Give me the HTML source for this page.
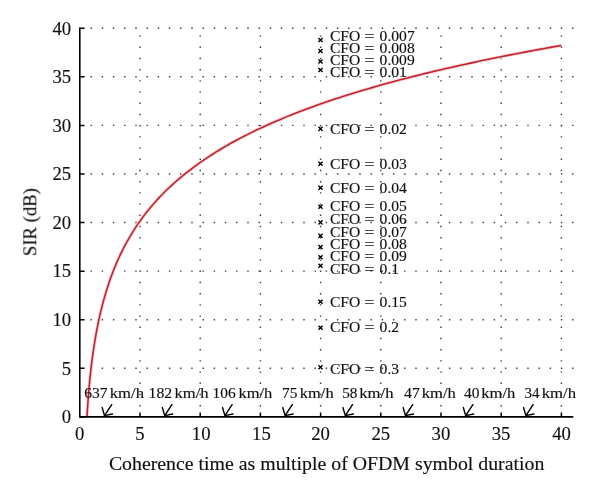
<!DOCTYPE html>
<html><head><meta charset="utf-8"><style>
html,body{margin:0;padding:0;background:#fff;}
body{width:600px;height:495px;overflow:hidden;}
svg{display:block;} text{will-change:transform;}
text{font-family:"Liberation Serif",serif;fill:#111;font-kerning:none;stroke:#111;stroke-width:0.15px;}
</style></head><body>
<svg width="600" height="495" viewBox="0 0 600 495">
<rect width="600" height="495" fill="#fff"/>
<path d="M90.50 367.61h1.4v1.4h-1.4zM101.70 367.61h1.4v1.4h-1.4zM112.90 367.61h1.4v1.4h-1.4zM124.10 367.61h1.4v1.4h-1.4zM135.30 367.61h1.4v1.4h-1.4zM146.50 367.61h1.4v1.4h-1.4zM157.70 367.61h1.4v1.4h-1.4zM168.90 367.61h1.4v1.4h-1.4zM180.10 367.61h1.4v1.4h-1.4zM191.30 367.61h1.4v1.4h-1.4zM202.50 367.61h1.4v1.4h-1.4zM213.70 367.61h1.4v1.4h-1.4zM224.90 367.61h1.4v1.4h-1.4zM236.10 367.61h1.4v1.4h-1.4zM247.30 367.61h1.4v1.4h-1.4zM258.50 367.61h1.4v1.4h-1.4zM269.70 367.61h1.4v1.4h-1.4zM280.90 367.61h1.4v1.4h-1.4zM292.10 367.61h1.4v1.4h-1.4zM303.30 367.61h1.4v1.4h-1.4zM314.50 367.61h1.4v1.4h-1.4zM325.70 367.61h1.4v1.4h-1.4zM336.90 367.61h1.4v1.4h-1.4zM348.10 367.61h1.4v1.4h-1.4zM359.30 367.61h1.4v1.4h-1.4zM370.50 367.61h1.4v1.4h-1.4zM381.70 367.61h1.4v1.4h-1.4zM392.90 367.61h1.4v1.4h-1.4zM404.10 367.61h1.4v1.4h-1.4zM415.30 367.61h1.4v1.4h-1.4zM426.50 367.61h1.4v1.4h-1.4zM437.70 367.61h1.4v1.4h-1.4zM448.90 367.61h1.4v1.4h-1.4zM460.10 367.61h1.4v1.4h-1.4zM471.30 367.61h1.4v1.4h-1.4zM482.50 367.61h1.4v1.4h-1.4zM493.70 367.61h1.4v1.4h-1.4zM504.90 367.61h1.4v1.4h-1.4zM516.10 367.61h1.4v1.4h-1.4zM527.30 367.61h1.4v1.4h-1.4zM538.50 367.61h1.4v1.4h-1.4zM549.70 367.61h1.4v1.4h-1.4zM560.90 367.61h1.4v1.4h-1.4zM572.10 367.61h1.4v1.4h-1.4zM90.50 319.02h1.4v1.4h-1.4zM101.70 319.02h1.4v1.4h-1.4zM112.90 319.02h1.4v1.4h-1.4zM124.10 319.02h1.4v1.4h-1.4zM135.30 319.02h1.4v1.4h-1.4zM146.50 319.02h1.4v1.4h-1.4zM157.70 319.02h1.4v1.4h-1.4zM168.90 319.02h1.4v1.4h-1.4zM180.10 319.02h1.4v1.4h-1.4zM191.30 319.02h1.4v1.4h-1.4zM202.50 319.02h1.4v1.4h-1.4zM213.70 319.02h1.4v1.4h-1.4zM224.90 319.02h1.4v1.4h-1.4zM236.10 319.02h1.4v1.4h-1.4zM247.30 319.02h1.4v1.4h-1.4zM258.50 319.02h1.4v1.4h-1.4zM269.70 319.02h1.4v1.4h-1.4zM280.90 319.02h1.4v1.4h-1.4zM292.10 319.02h1.4v1.4h-1.4zM303.30 319.02h1.4v1.4h-1.4zM314.50 319.02h1.4v1.4h-1.4zM325.70 319.02h1.4v1.4h-1.4zM336.90 319.02h1.4v1.4h-1.4zM348.10 319.02h1.4v1.4h-1.4zM359.30 319.02h1.4v1.4h-1.4zM370.50 319.02h1.4v1.4h-1.4zM381.70 319.02h1.4v1.4h-1.4zM392.90 319.02h1.4v1.4h-1.4zM404.10 319.02h1.4v1.4h-1.4zM415.30 319.02h1.4v1.4h-1.4zM426.50 319.02h1.4v1.4h-1.4zM437.70 319.02h1.4v1.4h-1.4zM448.90 319.02h1.4v1.4h-1.4zM460.10 319.02h1.4v1.4h-1.4zM471.30 319.02h1.4v1.4h-1.4zM482.50 319.02h1.4v1.4h-1.4zM493.70 319.02h1.4v1.4h-1.4zM504.90 319.02h1.4v1.4h-1.4zM516.10 319.02h1.4v1.4h-1.4zM527.30 319.02h1.4v1.4h-1.4zM538.50 319.02h1.4v1.4h-1.4zM549.70 319.02h1.4v1.4h-1.4zM560.90 319.02h1.4v1.4h-1.4zM572.10 319.02h1.4v1.4h-1.4zM90.50 270.44h1.4v1.4h-1.4zM101.70 270.44h1.4v1.4h-1.4zM112.90 270.44h1.4v1.4h-1.4zM124.10 270.44h1.4v1.4h-1.4zM135.30 270.44h1.4v1.4h-1.4zM146.50 270.44h1.4v1.4h-1.4zM157.70 270.44h1.4v1.4h-1.4zM168.90 270.44h1.4v1.4h-1.4zM180.10 270.44h1.4v1.4h-1.4zM191.30 270.44h1.4v1.4h-1.4zM202.50 270.44h1.4v1.4h-1.4zM213.70 270.44h1.4v1.4h-1.4zM224.90 270.44h1.4v1.4h-1.4zM236.10 270.44h1.4v1.4h-1.4zM247.30 270.44h1.4v1.4h-1.4zM258.50 270.44h1.4v1.4h-1.4zM269.70 270.44h1.4v1.4h-1.4zM280.90 270.44h1.4v1.4h-1.4zM292.10 270.44h1.4v1.4h-1.4zM303.30 270.44h1.4v1.4h-1.4zM314.50 270.44h1.4v1.4h-1.4zM325.70 270.44h1.4v1.4h-1.4zM336.90 270.44h1.4v1.4h-1.4zM348.10 270.44h1.4v1.4h-1.4zM359.30 270.44h1.4v1.4h-1.4zM370.50 270.44h1.4v1.4h-1.4zM381.70 270.44h1.4v1.4h-1.4zM392.90 270.44h1.4v1.4h-1.4zM404.10 270.44h1.4v1.4h-1.4zM415.30 270.44h1.4v1.4h-1.4zM426.50 270.44h1.4v1.4h-1.4zM437.70 270.44h1.4v1.4h-1.4zM448.90 270.44h1.4v1.4h-1.4zM460.10 270.44h1.4v1.4h-1.4zM471.30 270.44h1.4v1.4h-1.4zM482.50 270.44h1.4v1.4h-1.4zM493.70 270.44h1.4v1.4h-1.4zM504.90 270.44h1.4v1.4h-1.4zM516.10 270.44h1.4v1.4h-1.4zM527.30 270.44h1.4v1.4h-1.4zM538.50 270.44h1.4v1.4h-1.4zM549.70 270.44h1.4v1.4h-1.4zM560.90 270.44h1.4v1.4h-1.4zM572.10 270.44h1.4v1.4h-1.4zM90.50 221.85h1.4v1.4h-1.4zM101.70 221.85h1.4v1.4h-1.4zM112.90 221.85h1.4v1.4h-1.4zM124.10 221.85h1.4v1.4h-1.4zM135.30 221.85h1.4v1.4h-1.4zM146.50 221.85h1.4v1.4h-1.4zM157.70 221.85h1.4v1.4h-1.4zM168.90 221.85h1.4v1.4h-1.4zM180.10 221.85h1.4v1.4h-1.4zM191.30 221.85h1.4v1.4h-1.4zM202.50 221.85h1.4v1.4h-1.4zM213.70 221.85h1.4v1.4h-1.4zM224.90 221.85h1.4v1.4h-1.4zM236.10 221.85h1.4v1.4h-1.4zM247.30 221.85h1.4v1.4h-1.4zM258.50 221.85h1.4v1.4h-1.4zM269.70 221.85h1.4v1.4h-1.4zM280.90 221.85h1.4v1.4h-1.4zM292.10 221.85h1.4v1.4h-1.4zM303.30 221.85h1.4v1.4h-1.4zM314.50 221.85h1.4v1.4h-1.4zM325.70 221.85h1.4v1.4h-1.4zM336.90 221.85h1.4v1.4h-1.4zM348.10 221.85h1.4v1.4h-1.4zM359.30 221.85h1.4v1.4h-1.4zM370.50 221.85h1.4v1.4h-1.4zM381.70 221.85h1.4v1.4h-1.4zM392.90 221.85h1.4v1.4h-1.4zM404.10 221.85h1.4v1.4h-1.4zM415.30 221.85h1.4v1.4h-1.4zM426.50 221.85h1.4v1.4h-1.4zM437.70 221.85h1.4v1.4h-1.4zM448.90 221.85h1.4v1.4h-1.4zM460.10 221.85h1.4v1.4h-1.4zM471.30 221.85h1.4v1.4h-1.4zM482.50 221.85h1.4v1.4h-1.4zM493.70 221.85h1.4v1.4h-1.4zM504.90 221.85h1.4v1.4h-1.4zM516.10 221.85h1.4v1.4h-1.4zM527.30 221.85h1.4v1.4h-1.4zM538.50 221.85h1.4v1.4h-1.4zM549.70 221.85h1.4v1.4h-1.4zM560.90 221.85h1.4v1.4h-1.4zM572.10 221.85h1.4v1.4h-1.4zM90.50 173.26h1.4v1.4h-1.4zM101.70 173.26h1.4v1.4h-1.4zM112.90 173.26h1.4v1.4h-1.4zM124.10 173.26h1.4v1.4h-1.4zM135.30 173.26h1.4v1.4h-1.4zM146.50 173.26h1.4v1.4h-1.4zM157.70 173.26h1.4v1.4h-1.4zM168.90 173.26h1.4v1.4h-1.4zM180.10 173.26h1.4v1.4h-1.4zM191.30 173.26h1.4v1.4h-1.4zM202.50 173.26h1.4v1.4h-1.4zM213.70 173.26h1.4v1.4h-1.4zM224.90 173.26h1.4v1.4h-1.4zM236.10 173.26h1.4v1.4h-1.4zM247.30 173.26h1.4v1.4h-1.4zM258.50 173.26h1.4v1.4h-1.4zM269.70 173.26h1.4v1.4h-1.4zM280.90 173.26h1.4v1.4h-1.4zM292.10 173.26h1.4v1.4h-1.4zM303.30 173.26h1.4v1.4h-1.4zM314.50 173.26h1.4v1.4h-1.4zM325.70 173.26h1.4v1.4h-1.4zM336.90 173.26h1.4v1.4h-1.4zM348.10 173.26h1.4v1.4h-1.4zM359.30 173.26h1.4v1.4h-1.4zM370.50 173.26h1.4v1.4h-1.4zM381.70 173.26h1.4v1.4h-1.4zM392.90 173.26h1.4v1.4h-1.4zM404.10 173.26h1.4v1.4h-1.4zM415.30 173.26h1.4v1.4h-1.4zM426.50 173.26h1.4v1.4h-1.4zM437.70 173.26h1.4v1.4h-1.4zM448.90 173.26h1.4v1.4h-1.4zM460.10 173.26h1.4v1.4h-1.4zM471.30 173.26h1.4v1.4h-1.4zM482.50 173.26h1.4v1.4h-1.4zM493.70 173.26h1.4v1.4h-1.4zM504.90 173.26h1.4v1.4h-1.4zM516.10 173.26h1.4v1.4h-1.4zM527.30 173.26h1.4v1.4h-1.4zM538.50 173.26h1.4v1.4h-1.4zM549.70 173.26h1.4v1.4h-1.4zM560.90 173.26h1.4v1.4h-1.4zM572.10 173.26h1.4v1.4h-1.4zM90.50 124.67h1.4v1.4h-1.4zM101.70 124.67h1.4v1.4h-1.4zM112.90 124.67h1.4v1.4h-1.4zM124.10 124.67h1.4v1.4h-1.4zM135.30 124.67h1.4v1.4h-1.4zM146.50 124.67h1.4v1.4h-1.4zM157.70 124.67h1.4v1.4h-1.4zM168.90 124.67h1.4v1.4h-1.4zM180.10 124.67h1.4v1.4h-1.4zM191.30 124.67h1.4v1.4h-1.4zM202.50 124.67h1.4v1.4h-1.4zM213.70 124.67h1.4v1.4h-1.4zM224.90 124.67h1.4v1.4h-1.4zM236.10 124.67h1.4v1.4h-1.4zM247.30 124.67h1.4v1.4h-1.4zM258.50 124.67h1.4v1.4h-1.4zM269.70 124.67h1.4v1.4h-1.4zM280.90 124.67h1.4v1.4h-1.4zM292.10 124.67h1.4v1.4h-1.4zM303.30 124.67h1.4v1.4h-1.4zM314.50 124.67h1.4v1.4h-1.4zM325.70 124.67h1.4v1.4h-1.4zM336.90 124.67h1.4v1.4h-1.4zM348.10 124.67h1.4v1.4h-1.4zM359.30 124.67h1.4v1.4h-1.4zM370.50 124.67h1.4v1.4h-1.4zM381.70 124.67h1.4v1.4h-1.4zM392.90 124.67h1.4v1.4h-1.4zM404.10 124.67h1.4v1.4h-1.4zM415.30 124.67h1.4v1.4h-1.4zM426.50 124.67h1.4v1.4h-1.4zM437.70 124.67h1.4v1.4h-1.4zM448.90 124.67h1.4v1.4h-1.4zM460.10 124.67h1.4v1.4h-1.4zM471.30 124.67h1.4v1.4h-1.4zM482.50 124.67h1.4v1.4h-1.4zM493.70 124.67h1.4v1.4h-1.4zM504.90 124.67h1.4v1.4h-1.4zM516.10 124.67h1.4v1.4h-1.4zM527.30 124.67h1.4v1.4h-1.4zM538.50 124.67h1.4v1.4h-1.4zM549.70 124.67h1.4v1.4h-1.4zM560.90 124.67h1.4v1.4h-1.4zM572.10 124.67h1.4v1.4h-1.4zM90.50 76.09h1.4v1.4h-1.4zM101.70 76.09h1.4v1.4h-1.4zM112.90 76.09h1.4v1.4h-1.4zM124.10 76.09h1.4v1.4h-1.4zM135.30 76.09h1.4v1.4h-1.4zM146.50 76.09h1.4v1.4h-1.4zM157.70 76.09h1.4v1.4h-1.4zM168.90 76.09h1.4v1.4h-1.4zM180.10 76.09h1.4v1.4h-1.4zM191.30 76.09h1.4v1.4h-1.4zM202.50 76.09h1.4v1.4h-1.4zM213.70 76.09h1.4v1.4h-1.4zM224.90 76.09h1.4v1.4h-1.4zM236.10 76.09h1.4v1.4h-1.4zM247.30 76.09h1.4v1.4h-1.4zM258.50 76.09h1.4v1.4h-1.4zM269.70 76.09h1.4v1.4h-1.4zM280.90 76.09h1.4v1.4h-1.4zM292.10 76.09h1.4v1.4h-1.4zM303.30 76.09h1.4v1.4h-1.4zM314.50 76.09h1.4v1.4h-1.4zM325.70 76.09h1.4v1.4h-1.4zM336.90 76.09h1.4v1.4h-1.4zM348.10 76.09h1.4v1.4h-1.4zM359.30 76.09h1.4v1.4h-1.4zM370.50 76.09h1.4v1.4h-1.4zM381.70 76.09h1.4v1.4h-1.4zM392.90 76.09h1.4v1.4h-1.4zM404.10 76.09h1.4v1.4h-1.4zM415.30 76.09h1.4v1.4h-1.4zM426.50 76.09h1.4v1.4h-1.4zM437.70 76.09h1.4v1.4h-1.4zM448.90 76.09h1.4v1.4h-1.4zM460.10 76.09h1.4v1.4h-1.4zM471.30 76.09h1.4v1.4h-1.4zM482.50 76.09h1.4v1.4h-1.4zM493.70 76.09h1.4v1.4h-1.4zM504.90 76.09h1.4v1.4h-1.4zM516.10 76.09h1.4v1.4h-1.4zM527.30 76.09h1.4v1.4h-1.4zM538.50 76.09h1.4v1.4h-1.4zM549.70 76.09h1.4v1.4h-1.4zM560.90 76.09h1.4v1.4h-1.4zM572.10 76.09h1.4v1.4h-1.4zM90.50 27.50h1.4v1.4h-1.4zM101.70 27.50h1.4v1.4h-1.4zM112.90 27.50h1.4v1.4h-1.4zM124.10 27.50h1.4v1.4h-1.4zM135.30 27.50h1.4v1.4h-1.4zM146.50 27.50h1.4v1.4h-1.4zM157.70 27.50h1.4v1.4h-1.4zM168.90 27.50h1.4v1.4h-1.4zM180.10 27.50h1.4v1.4h-1.4zM191.30 27.50h1.4v1.4h-1.4zM202.50 27.50h1.4v1.4h-1.4zM213.70 27.50h1.4v1.4h-1.4zM224.90 27.50h1.4v1.4h-1.4zM236.10 27.50h1.4v1.4h-1.4zM247.30 27.50h1.4v1.4h-1.4zM258.50 27.50h1.4v1.4h-1.4zM269.70 27.50h1.4v1.4h-1.4zM280.90 27.50h1.4v1.4h-1.4zM292.10 27.50h1.4v1.4h-1.4zM303.30 27.50h1.4v1.4h-1.4zM314.50 27.50h1.4v1.4h-1.4zM325.70 27.50h1.4v1.4h-1.4zM336.90 27.50h1.4v1.4h-1.4zM348.10 27.50h1.4v1.4h-1.4zM359.30 27.50h1.4v1.4h-1.4zM370.50 27.50h1.4v1.4h-1.4zM381.70 27.50h1.4v1.4h-1.4zM392.90 27.50h1.4v1.4h-1.4zM404.10 27.50h1.4v1.4h-1.4zM415.30 27.50h1.4v1.4h-1.4zM426.50 27.50h1.4v1.4h-1.4zM437.70 27.50h1.4v1.4h-1.4zM448.90 27.50h1.4v1.4h-1.4zM460.10 27.50h1.4v1.4h-1.4zM471.30 27.50h1.4v1.4h-1.4zM482.50 27.50h1.4v1.4h-1.4zM493.70 27.50h1.4v1.4h-1.4zM504.90 27.50h1.4v1.4h-1.4zM516.10 27.50h1.4v1.4h-1.4zM527.30 27.50h1.4v1.4h-1.4zM538.50 27.50h1.4v1.4h-1.4zM549.70 27.50h1.4v1.4h-1.4zM560.90 27.50h1.4v1.4h-1.4zM572.10 27.50h1.4v1.4h-1.4zM139.30 405.00h1.4v1.4h-1.4zM139.30 393.80h1.4v1.4h-1.4zM139.30 382.60h1.4v1.4h-1.4zM139.30 371.40h1.4v1.4h-1.4zM139.30 360.20h1.4v1.4h-1.4zM139.30 349.00h1.4v1.4h-1.4zM139.30 337.80h1.4v1.4h-1.4zM139.30 326.60h1.4v1.4h-1.4zM139.30 315.40h1.4v1.4h-1.4zM139.30 304.20h1.4v1.4h-1.4zM139.30 293.00h1.4v1.4h-1.4zM139.30 281.80h1.4v1.4h-1.4zM139.30 270.60h1.4v1.4h-1.4zM139.30 259.40h1.4v1.4h-1.4zM139.30 248.20h1.4v1.4h-1.4zM139.30 237.00h1.4v1.4h-1.4zM139.30 225.80h1.4v1.4h-1.4zM139.30 214.60h1.4v1.4h-1.4zM139.30 203.40h1.4v1.4h-1.4zM139.30 192.20h1.4v1.4h-1.4zM139.30 181.00h1.4v1.4h-1.4zM139.30 169.80h1.4v1.4h-1.4zM139.30 158.60h1.4v1.4h-1.4zM139.30 147.40h1.4v1.4h-1.4zM139.30 136.20h1.4v1.4h-1.4zM139.30 125.00h1.4v1.4h-1.4zM139.30 113.80h1.4v1.4h-1.4zM139.30 102.60h1.4v1.4h-1.4zM139.30 91.40h1.4v1.4h-1.4zM139.30 80.20h1.4v1.4h-1.4zM139.30 69.00h1.4v1.4h-1.4zM139.30 57.80h1.4v1.4h-1.4zM139.30 46.60h1.4v1.4h-1.4zM139.30 35.40h1.4v1.4h-1.4zM199.50 405.00h1.4v1.4h-1.4zM199.50 393.80h1.4v1.4h-1.4zM199.50 382.60h1.4v1.4h-1.4zM199.50 371.40h1.4v1.4h-1.4zM199.50 360.20h1.4v1.4h-1.4zM199.50 349.00h1.4v1.4h-1.4zM199.50 337.80h1.4v1.4h-1.4zM199.50 326.60h1.4v1.4h-1.4zM199.50 315.40h1.4v1.4h-1.4zM199.50 304.20h1.4v1.4h-1.4zM199.50 293.00h1.4v1.4h-1.4zM199.50 281.80h1.4v1.4h-1.4zM199.50 270.60h1.4v1.4h-1.4zM199.50 259.40h1.4v1.4h-1.4zM199.50 248.20h1.4v1.4h-1.4zM199.50 237.00h1.4v1.4h-1.4zM199.50 225.80h1.4v1.4h-1.4zM199.50 214.60h1.4v1.4h-1.4zM199.50 203.40h1.4v1.4h-1.4zM199.50 192.20h1.4v1.4h-1.4zM199.50 181.00h1.4v1.4h-1.4zM199.50 169.80h1.4v1.4h-1.4zM199.50 158.60h1.4v1.4h-1.4zM199.50 147.40h1.4v1.4h-1.4zM199.50 136.20h1.4v1.4h-1.4zM199.50 125.00h1.4v1.4h-1.4zM199.50 113.80h1.4v1.4h-1.4zM199.50 102.60h1.4v1.4h-1.4zM199.50 91.40h1.4v1.4h-1.4zM199.50 80.20h1.4v1.4h-1.4zM199.50 69.00h1.4v1.4h-1.4zM199.50 57.80h1.4v1.4h-1.4zM199.50 46.60h1.4v1.4h-1.4zM199.50 35.40h1.4v1.4h-1.4zM259.70 405.00h1.4v1.4h-1.4zM259.70 393.80h1.4v1.4h-1.4zM259.70 382.60h1.4v1.4h-1.4zM259.70 371.40h1.4v1.4h-1.4zM259.70 360.20h1.4v1.4h-1.4zM259.70 349.00h1.4v1.4h-1.4zM259.70 337.80h1.4v1.4h-1.4zM259.70 326.60h1.4v1.4h-1.4zM259.70 315.40h1.4v1.4h-1.4zM259.70 304.20h1.4v1.4h-1.4zM259.70 293.00h1.4v1.4h-1.4zM259.70 281.80h1.4v1.4h-1.4zM259.70 270.60h1.4v1.4h-1.4zM259.70 259.40h1.4v1.4h-1.4zM259.70 248.20h1.4v1.4h-1.4zM259.70 237.00h1.4v1.4h-1.4zM259.70 225.80h1.4v1.4h-1.4zM259.70 214.60h1.4v1.4h-1.4zM259.70 203.40h1.4v1.4h-1.4zM259.70 192.20h1.4v1.4h-1.4zM259.70 181.00h1.4v1.4h-1.4zM259.70 169.80h1.4v1.4h-1.4zM259.70 158.60h1.4v1.4h-1.4zM259.70 147.40h1.4v1.4h-1.4zM259.70 136.20h1.4v1.4h-1.4zM259.70 125.00h1.4v1.4h-1.4zM259.70 113.80h1.4v1.4h-1.4zM259.70 102.60h1.4v1.4h-1.4zM259.70 91.40h1.4v1.4h-1.4zM259.70 80.20h1.4v1.4h-1.4zM259.70 69.00h1.4v1.4h-1.4zM259.70 57.80h1.4v1.4h-1.4zM259.70 46.60h1.4v1.4h-1.4zM259.70 35.40h1.4v1.4h-1.4zM319.90 405.00h1.4v1.4h-1.4zM319.90 393.80h1.4v1.4h-1.4zM319.90 382.60h1.4v1.4h-1.4zM319.90 371.40h1.4v1.4h-1.4zM319.90 360.20h1.4v1.4h-1.4zM319.90 349.00h1.4v1.4h-1.4zM319.90 337.80h1.4v1.4h-1.4zM319.90 326.60h1.4v1.4h-1.4zM319.90 315.40h1.4v1.4h-1.4zM319.90 304.20h1.4v1.4h-1.4zM319.90 293.00h1.4v1.4h-1.4zM319.90 281.80h1.4v1.4h-1.4zM319.90 270.60h1.4v1.4h-1.4zM319.90 259.40h1.4v1.4h-1.4zM319.90 248.20h1.4v1.4h-1.4zM319.90 237.00h1.4v1.4h-1.4zM319.90 225.80h1.4v1.4h-1.4zM319.90 214.60h1.4v1.4h-1.4zM319.90 203.40h1.4v1.4h-1.4zM319.90 192.20h1.4v1.4h-1.4zM319.90 181.00h1.4v1.4h-1.4zM319.90 169.80h1.4v1.4h-1.4zM319.90 158.60h1.4v1.4h-1.4zM319.90 147.40h1.4v1.4h-1.4zM319.90 136.20h1.4v1.4h-1.4zM319.90 125.00h1.4v1.4h-1.4zM319.90 113.80h1.4v1.4h-1.4zM319.90 102.60h1.4v1.4h-1.4zM319.90 91.40h1.4v1.4h-1.4zM319.90 80.20h1.4v1.4h-1.4zM319.90 69.00h1.4v1.4h-1.4zM319.90 57.80h1.4v1.4h-1.4zM319.90 46.60h1.4v1.4h-1.4zM319.90 35.40h1.4v1.4h-1.4zM380.10 405.00h1.4v1.4h-1.4zM380.10 393.80h1.4v1.4h-1.4zM380.10 382.60h1.4v1.4h-1.4zM380.10 371.40h1.4v1.4h-1.4zM380.10 360.20h1.4v1.4h-1.4zM380.10 349.00h1.4v1.4h-1.4zM380.10 337.80h1.4v1.4h-1.4zM380.10 326.60h1.4v1.4h-1.4zM380.10 315.40h1.4v1.4h-1.4zM380.10 304.20h1.4v1.4h-1.4zM380.10 293.00h1.4v1.4h-1.4zM380.10 281.80h1.4v1.4h-1.4zM380.10 270.60h1.4v1.4h-1.4zM380.10 259.40h1.4v1.4h-1.4zM380.10 248.20h1.4v1.4h-1.4zM380.10 237.00h1.4v1.4h-1.4zM380.10 225.80h1.4v1.4h-1.4zM380.10 214.60h1.4v1.4h-1.4zM380.10 203.40h1.4v1.4h-1.4zM380.10 192.20h1.4v1.4h-1.4zM380.10 181.00h1.4v1.4h-1.4zM380.10 169.80h1.4v1.4h-1.4zM380.10 158.60h1.4v1.4h-1.4zM380.10 147.40h1.4v1.4h-1.4zM380.10 136.20h1.4v1.4h-1.4zM380.10 125.00h1.4v1.4h-1.4zM380.10 113.80h1.4v1.4h-1.4zM380.10 102.60h1.4v1.4h-1.4zM380.10 91.40h1.4v1.4h-1.4zM380.10 80.20h1.4v1.4h-1.4zM380.10 69.00h1.4v1.4h-1.4zM380.10 57.80h1.4v1.4h-1.4zM380.10 46.60h1.4v1.4h-1.4zM380.10 35.40h1.4v1.4h-1.4zM440.30 405.00h1.4v1.4h-1.4zM440.30 393.80h1.4v1.4h-1.4zM440.30 382.60h1.4v1.4h-1.4zM440.30 371.40h1.4v1.4h-1.4zM440.30 360.20h1.4v1.4h-1.4zM440.30 349.00h1.4v1.4h-1.4zM440.30 337.80h1.4v1.4h-1.4zM440.30 326.60h1.4v1.4h-1.4zM440.30 315.40h1.4v1.4h-1.4zM440.30 304.20h1.4v1.4h-1.4zM440.30 293.00h1.4v1.4h-1.4zM440.30 281.80h1.4v1.4h-1.4zM440.30 270.60h1.4v1.4h-1.4zM440.30 259.40h1.4v1.4h-1.4zM440.30 248.20h1.4v1.4h-1.4zM440.30 237.00h1.4v1.4h-1.4zM440.30 225.80h1.4v1.4h-1.4zM440.30 214.60h1.4v1.4h-1.4zM440.30 203.40h1.4v1.4h-1.4zM440.30 192.20h1.4v1.4h-1.4zM440.30 181.00h1.4v1.4h-1.4zM440.30 169.80h1.4v1.4h-1.4zM440.30 158.60h1.4v1.4h-1.4zM440.30 147.40h1.4v1.4h-1.4zM440.30 136.20h1.4v1.4h-1.4zM440.30 125.00h1.4v1.4h-1.4zM440.30 113.80h1.4v1.4h-1.4zM440.30 102.60h1.4v1.4h-1.4zM440.30 91.40h1.4v1.4h-1.4zM440.30 80.20h1.4v1.4h-1.4zM440.30 69.00h1.4v1.4h-1.4zM440.30 57.80h1.4v1.4h-1.4zM440.30 46.60h1.4v1.4h-1.4zM440.30 35.40h1.4v1.4h-1.4zM500.50 405.00h1.4v1.4h-1.4zM500.50 393.80h1.4v1.4h-1.4zM500.50 382.60h1.4v1.4h-1.4zM500.50 371.40h1.4v1.4h-1.4zM500.50 360.20h1.4v1.4h-1.4zM500.50 349.00h1.4v1.4h-1.4zM500.50 337.80h1.4v1.4h-1.4zM500.50 326.60h1.4v1.4h-1.4zM500.50 315.40h1.4v1.4h-1.4zM500.50 304.20h1.4v1.4h-1.4zM500.50 293.00h1.4v1.4h-1.4zM500.50 281.80h1.4v1.4h-1.4zM500.50 270.60h1.4v1.4h-1.4zM500.50 259.40h1.4v1.4h-1.4zM500.50 248.20h1.4v1.4h-1.4zM500.50 237.00h1.4v1.4h-1.4zM500.50 225.80h1.4v1.4h-1.4zM500.50 214.60h1.4v1.4h-1.4zM500.50 203.40h1.4v1.4h-1.4zM500.50 192.20h1.4v1.4h-1.4zM500.50 181.00h1.4v1.4h-1.4zM500.50 169.80h1.4v1.4h-1.4zM500.50 158.60h1.4v1.4h-1.4zM500.50 147.40h1.4v1.4h-1.4zM500.50 136.20h1.4v1.4h-1.4zM500.50 125.00h1.4v1.4h-1.4zM500.50 113.80h1.4v1.4h-1.4zM500.50 102.60h1.4v1.4h-1.4zM500.50 91.40h1.4v1.4h-1.4zM500.50 80.20h1.4v1.4h-1.4zM500.50 69.00h1.4v1.4h-1.4zM500.50 57.80h1.4v1.4h-1.4zM500.50 46.60h1.4v1.4h-1.4zM500.50 35.40h1.4v1.4h-1.4zM560.70 405.00h1.4v1.4h-1.4zM560.70 393.80h1.4v1.4h-1.4zM560.70 382.60h1.4v1.4h-1.4zM560.70 371.40h1.4v1.4h-1.4zM560.70 360.20h1.4v1.4h-1.4zM560.70 349.00h1.4v1.4h-1.4zM560.70 337.80h1.4v1.4h-1.4zM560.70 326.60h1.4v1.4h-1.4zM560.70 315.40h1.4v1.4h-1.4zM560.70 304.20h1.4v1.4h-1.4zM560.70 293.00h1.4v1.4h-1.4zM560.70 281.80h1.4v1.4h-1.4zM560.70 270.60h1.4v1.4h-1.4zM560.70 259.40h1.4v1.4h-1.4zM560.70 248.20h1.4v1.4h-1.4zM560.70 237.00h1.4v1.4h-1.4zM560.70 225.80h1.4v1.4h-1.4zM560.70 214.60h1.4v1.4h-1.4zM560.70 203.40h1.4v1.4h-1.4zM560.70 192.20h1.4v1.4h-1.4zM560.70 181.00h1.4v1.4h-1.4zM560.70 169.80h1.4v1.4h-1.4zM560.70 158.60h1.4v1.4h-1.4zM560.70 147.40h1.4v1.4h-1.4zM560.70 136.20h1.4v1.4h-1.4zM560.70 125.00h1.4v1.4h-1.4zM560.70 113.80h1.4v1.4h-1.4zM560.70 102.60h1.4v1.4h-1.4zM560.70 91.40h1.4v1.4h-1.4zM560.70 80.20h1.4v1.4h-1.4zM560.70 69.00h1.4v1.4h-1.4zM560.70 57.80h1.4v1.4h-1.4zM560.70 46.60h1.4v1.4h-1.4zM560.70 35.40h1.4v1.4h-1.4z" fill="#3c3c3c"/>
<polyline points="86.95,416.90 87.04,415.48 87.12,414.09 87.20,412.73 87.29,411.40 87.37,410.09 87.45,408.81 87.53,407.55 87.62,406.32 87.70,405.11 87.78,403.92 87.87,402.75 87.95,401.60 88.03,400.48 88.11,399.36 88.20,398.27 88.28,397.20 88.36,396.14 88.45,395.09 88.53,394.07 88.61,393.05 88.69,392.06 88.78,391.07 88.86,390.10 88.94,389.14 89.02,388.20 89.11,387.27 89.19,386.35 89.27,385.44 89.36,384.54 89.44,383.66 89.52,382.78 89.60,381.92 89.69,381.06 89.77,380.22 89.85,379.39 89.94,378.56 90.02,377.75 90.10,376.94 90.18,376.14 90.27,375.35 90.35,374.57 90.43,373.80 90.52,373.03 90.60,372.28 90.68,371.53 90.76,370.79 90.85,370.05 90.93,369.33 91.01,368.61 91.09,367.89 91.18,367.19 91.26,366.49 91.34,365.79 91.43,365.11 91.51,364.42 91.59,363.75 91.67,363.08 91.76,362.42 91.84,361.76 92.45,357.07 93.06,352.65 93.68,348.47 94.29,344.51 94.90,340.73 95.51,337.13 96.13,333.68 96.74,330.38 97.35,327.21 97.96,324.16 98.57,321.22 99.19,318.39 99.80,315.65 100.41,313.00 101.02,310.43 101.64,307.95 102.25,305.53 102.86,303.19 103.47,300.91 104.08,298.69 104.70,296.53 105.31,294.43 105.92,292.37 106.53,290.37 107.15,288.42 107.76,286.51 108.37,284.64 108.98,282.82 109.59,281.03 110.21,279.29 110.82,277.57 111.43,275.90 112.04,274.25 112.65,272.64 113.27,271.06 113.88,269.51 114.49,267.98 115.10,266.49 115.72,265.02 116.33,263.57 116.94,262.16 117.55,260.76 118.16,259.39 118.78,258.04 119.39,256.71 120.00,255.40 120.61,254.11 121.23,252.84 121.84,251.59 122.45,250.36 123.06,249.15 123.67,247.95 124.29,246.77 124.90,245.61 125.51,244.46 126.12,243.33 126.74,242.22 127.35,241.11 127.96,240.03 131.60,233.84 135.24,228.07 138.89,222.67 142.53,217.60 146.17,212.82 149.81,208.30 153.46,204.01 157.10,199.92 160.74,196.03 164.38,192.30 168.03,188.74 171.67,185.32 175.31,182.03 178.95,178.87 182.60,175.82 186.24,172.88 189.88,170.04 193.52,167.29 197.16,164.62 200.81,162.04 204.45,159.54 208.09,157.10 211.73,154.74 215.38,152.44 219.02,150.20 222.66,148.02 226.30,145.89 229.95,143.82 233.59,141.80 237.23,139.82 240.87,137.89 244.52,136.00 248.16,134.15 251.80,132.35 255.44,130.58 259.08,128.85 262.73,127.15 266.37,125.48 270.01,123.85 273.65,122.25 277.30,120.68 280.94,119.14 284.58,117.62 288.22,116.13 291.87,114.67 295.51,113.23 299.15,111.82 302.79,110.43 306.44,109.06 310.08,107.72 313.72,106.39 317.36,105.09 321.00,103.80 324.65,102.54 328.29,101.29 331.93,100.07 335.57,98.86 339.22,97.66 342.86,96.49 346.50,95.32 350.14,94.18 353.79,93.05 357.43,91.94 361.07,90.84 364.71,89.75 368.36,88.68 372.00,87.62 375.64,86.57 379.28,85.54 382.92,84.52 386.57,83.51 390.21,82.52 393.85,81.53 397.49,80.56 401.14,79.60 404.78,78.65 408.42,77.71 412.06,76.78 415.71,75.86 419.35,74.95 422.99,74.05 426.63,73.15 430.28,72.27 433.92,71.40 437.56,70.54 441.20,69.68 444.84,68.84 448.49,68.00 452.13,67.17 455.77,66.35 459.41,65.53 463.06,64.73 466.70,63.93 470.34,63.14 473.98,62.36 477.63,61.58 481.27,60.81 484.91,60.05 488.55,59.29 492.20,58.54 495.84,57.80 499.48,57.07 503.12,56.34 506.76,55.62 510.41,54.90 514.05,54.19 517.69,53.48 521.33,52.78 524.98,52.09 528.62,51.40 532.26,50.72 535.90,50.04 539.55,49.37 543.19,48.71 546.83,48.05 550.47,47.39 554.12,46.74 557.76,46.10 561.40,45.45" fill="none" stroke="#f6d4d6" stroke-width="3.4" stroke-linejoin="round"/>
<polyline points="86.95,416.90 87.04,415.48 87.12,414.09 87.20,412.73 87.29,411.40 87.37,410.09 87.45,408.81 87.53,407.55 87.62,406.32 87.70,405.11 87.78,403.92 87.87,402.75 87.95,401.60 88.03,400.48 88.11,399.36 88.20,398.27 88.28,397.20 88.36,396.14 88.45,395.09 88.53,394.07 88.61,393.05 88.69,392.06 88.78,391.07 88.86,390.10 88.94,389.14 89.02,388.20 89.11,387.27 89.19,386.35 89.27,385.44 89.36,384.54 89.44,383.66 89.52,382.78 89.60,381.92 89.69,381.06 89.77,380.22 89.85,379.39 89.94,378.56 90.02,377.75 90.10,376.94 90.18,376.14 90.27,375.35 90.35,374.57 90.43,373.80 90.52,373.03 90.60,372.28 90.68,371.53 90.76,370.79 90.85,370.05 90.93,369.33 91.01,368.61 91.09,367.89 91.18,367.19 91.26,366.49 91.34,365.79 91.43,365.11 91.51,364.42 91.59,363.75 91.67,363.08 91.76,362.42 91.84,361.76 92.45,357.07 93.06,352.65 93.68,348.47 94.29,344.51 94.90,340.73 95.51,337.13 96.13,333.68 96.74,330.38 97.35,327.21 97.96,324.16 98.57,321.22 99.19,318.39 99.80,315.65 100.41,313.00 101.02,310.43 101.64,307.95 102.25,305.53 102.86,303.19 103.47,300.91 104.08,298.69 104.70,296.53 105.31,294.43 105.92,292.37 106.53,290.37 107.15,288.42 107.76,286.51 108.37,284.64 108.98,282.82 109.59,281.03 110.21,279.29 110.82,277.57 111.43,275.90 112.04,274.25 112.65,272.64 113.27,271.06 113.88,269.51 114.49,267.98 115.10,266.49 115.72,265.02 116.33,263.57 116.94,262.16 117.55,260.76 118.16,259.39 118.78,258.04 119.39,256.71 120.00,255.40 120.61,254.11 121.23,252.84 121.84,251.59 122.45,250.36 123.06,249.15 123.67,247.95 124.29,246.77 124.90,245.61 125.51,244.46 126.12,243.33 126.74,242.22 127.35,241.11 127.96,240.03 131.60,233.84 135.24,228.07 138.89,222.67 142.53,217.60 146.17,212.82 149.81,208.30 153.46,204.01 157.10,199.92 160.74,196.03 164.38,192.30 168.03,188.74 171.67,185.32 175.31,182.03 178.95,178.87 182.60,175.82 186.24,172.88 189.88,170.04 193.52,167.29 197.16,164.62 200.81,162.04 204.45,159.54 208.09,157.10 211.73,154.74 215.38,152.44 219.02,150.20 222.66,148.02 226.30,145.89 229.95,143.82 233.59,141.80 237.23,139.82 240.87,137.89 244.52,136.00 248.16,134.15 251.80,132.35 255.44,130.58 259.08,128.85 262.73,127.15 266.37,125.48 270.01,123.85 273.65,122.25 277.30,120.68 280.94,119.14 284.58,117.62 288.22,116.13 291.87,114.67 295.51,113.23 299.15,111.82 302.79,110.43 306.44,109.06 310.08,107.72 313.72,106.39 317.36,105.09 321.00,103.80 324.65,102.54 328.29,101.29 331.93,100.07 335.57,98.86 339.22,97.66 342.86,96.49 346.50,95.32 350.14,94.18 353.79,93.05 357.43,91.94 361.07,90.84 364.71,89.75 368.36,88.68 372.00,87.62 375.64,86.57 379.28,85.54 382.92,84.52 386.57,83.51 390.21,82.52 393.85,81.53 397.49,80.56 401.14,79.60 404.78,78.65 408.42,77.71 412.06,76.78 415.71,75.86 419.35,74.95 422.99,74.05 426.63,73.15 430.28,72.27 433.92,71.40 437.56,70.54 441.20,69.68 444.84,68.84 448.49,68.00 452.13,67.17 455.77,66.35 459.41,65.53 463.06,64.73 466.70,63.93 470.34,63.14 473.98,62.36 477.63,61.58 481.27,60.81 484.91,60.05 488.55,59.29 492.20,58.54 495.84,57.80 499.48,57.07 503.12,56.34 506.76,55.62 510.41,54.90 514.05,54.19 517.69,53.48 521.33,52.78 524.98,52.09 528.62,51.40 532.26,50.72 535.90,50.04 539.55,49.37 543.19,48.71 546.83,48.05 550.47,47.39 554.12,46.74 557.76,46.10 561.40,45.45" fill="none" stroke="#c2222e" stroke-width="1.6" stroke-linejoin="round"/>
<path d="M79.80 27.5V416.90M79.00 416.90H573.3" stroke="#000" stroke-width="1.6" fill="none"/>
<path d="M79.80 416.90H84.60M79.80 368.31H84.60M79.80 319.72H84.60M79.80 271.14H84.60M79.80 222.55H84.60M79.80 173.96H84.60M79.80 125.38H84.60M79.80 76.79H84.60M79.80 28.20H84.60M140.00 416.90V412.40M200.20 416.90V412.40M260.40 416.90V412.40M320.60 416.90V412.40M380.80 416.90V412.40M441.00 416.90V412.40M501.20 416.90V412.40M561.40 416.90V412.40" stroke="#000" stroke-width="1.5" fill="none"/>
<g><text transform="translate(61.75,423.29) scale(0.96,1)" font-size="19.5">0</text><text transform="translate(75.12,440.37) scale(0.96,1)" font-size="19.5">0</text><text transform="translate(61.77,374.60) scale(0.96,1)" font-size="19.5">5</text><text transform="translate(135.14,440.17) scale(0.96,1)" font-size="19.5">5</text><text transform="translate(52.39,326.11) scale(0.96,1)" font-size="19.5">10</text><text transform="translate(191.87,440.37) scale(0.96,1)" font-size="19.5">10</text><text transform="translate(52.41,277.48) scale(0.96,1)" font-size="19.5">15</text><text transform="translate(252.08,440.27) scale(0.96,1)" font-size="19.5">15</text><text transform="translate(52.39,228.94) scale(0.96,1)" font-size="19.5">20</text><text transform="translate(311.19,440.37) scale(0.96,1)" font-size="19.5">20</text><text transform="translate(52.41,180.32) scale(0.96,1)" font-size="19.5">25</text><text transform="translate(371.39,440.31) scale(0.96,1)" font-size="19.5">25</text><text transform="translate(52.39,131.76) scale(0.96,1)" font-size="19.5">30</text><text transform="translate(431.55,440.37) scale(0.96,1)" font-size="19.5">30</text><text transform="translate(52.41,83.15) scale(0.96,1)" font-size="19.5">35</text><text transform="translate(491.76,440.31) scale(0.96,1)" font-size="19.5">35</text><text transform="translate(52.39,34.59) scale(0.96,1)" font-size="19.5">40</text><text transform="translate(552.21,440.37) scale(0.96,1)" font-size="19.5">40</text></g>
<text transform="translate(108.89,469.60) scale(1.0169,1)" font-size="19.5">Coherence time as multiple of OFDM symbol duration</text>
<text transform="translate(36.3,256.15) rotate(-90) scale(0.9845,1)" font-size="19">SIR (dB)</text>
<path d="M318.45 37.95l4.1 4.1M322.55 37.95l-4.1 4.1M318.45 48.95l4.1 4.1M322.55 48.95l-4.1 4.1M318.45 59.45l4.1 4.1M322.55 59.45l-4.1 4.1M318.45 67.95l4.1 4.1M322.55 67.95l-4.1 4.1M318.45 126.85l4.1 4.1M322.55 126.85l-4.1 4.1M318.45 161.75l4.1 4.1M322.55 161.75l-4.1 4.1M318.45 185.75l4.1 4.1M322.55 185.75l-4.1 4.1M318.45 204.75l4.1 4.1M322.55 204.75l-4.1 4.1M318.45 220.35l4.1 4.1M322.55 220.35l-4.1 4.1M318.45 233.65l4.1 4.1M322.55 233.65l-4.1 4.1M318.45 244.95l4.1 4.1M322.55 244.95l-4.1 4.1M318.45 255.15l4.1 4.1M322.55 255.15l-4.1 4.1M318.45 263.65l4.1 4.1M322.55 263.65l-4.1 4.1M318.45 299.75l4.1 4.1M322.55 299.75l-4.1 4.1M318.45 325.75l4.1 4.1M322.55 325.75l-4.1 4.1M318.45 365.15l4.1 4.1M322.55 365.15l-4.1 4.1" stroke="#000" stroke-width="1.4" fill="none"/>
<g><text transform="translate(329.96,41.00) scale(1.0552,1)" font-size="14.8">CFO</text><text transform="translate(364.29,41.00) scale(1.2342,1)" font-size="14.8">=</text><text transform="translate(379.61,41.00) scale(1.0550,1)" font-size="14.8">0.007</text><text transform="translate(329.96,52.50) scale(1.0552,1)" font-size="14.8">CFO</text><text transform="translate(364.29,52.50) scale(1.2342,1)" font-size="14.8">=</text><text transform="translate(379.61,52.50) scale(1.0550,1)" font-size="14.8">0.008</text><text transform="translate(329.96,65.00) scale(1.0552,1)" font-size="14.8">CFO</text><text transform="translate(364.29,65.00) scale(1.2342,1)" font-size="14.8">=</text><text transform="translate(379.61,65.00) scale(1.0550,1)" font-size="14.8">0.009</text><text transform="translate(329.96,77.00) scale(1.0552,1)" font-size="14.8">CFO</text><text transform="translate(364.29,77.00) scale(1.2342,1)" font-size="14.8">=</text><text transform="translate(379.61,77.00) scale(1.0550,1)" font-size="14.8">0.01</text><text transform="translate(329.96,133.80) scale(1.0552,1)" font-size="14.8">CFO</text><text transform="translate(364.29,133.80) scale(1.2342,1)" font-size="14.8">=</text><text transform="translate(379.61,133.80) scale(1.0550,1)" font-size="14.8">0.02</text><text transform="translate(329.96,168.80) scale(1.0552,1)" font-size="14.8">CFO</text><text transform="translate(364.29,168.80) scale(1.2342,1)" font-size="14.8">=</text><text transform="translate(379.61,168.80) scale(1.0550,1)" font-size="14.8">0.03</text><text transform="translate(329.96,192.50) scale(1.0552,1)" font-size="14.8">CFO</text><text transform="translate(364.29,192.50) scale(1.2342,1)" font-size="14.8">=</text><text transform="translate(379.61,192.50) scale(1.0550,1)" font-size="14.8">0.04</text><text transform="translate(329.96,211.00) scale(1.0552,1)" font-size="14.8">CFO</text><text transform="translate(364.29,211.00) scale(1.2342,1)" font-size="14.8">=</text><text transform="translate(379.61,211.00) scale(1.0550,1)" font-size="14.8">0.05</text><text transform="translate(329.96,224.20) scale(1.0552,1)" font-size="14.8">CFO</text><text transform="translate(364.29,224.20) scale(1.2342,1)" font-size="14.8">=</text><text transform="translate(379.61,224.20) scale(1.0550,1)" font-size="14.8">0.06</text><text transform="translate(329.96,237.00) scale(1.0552,1)" font-size="14.8">CFO</text><text transform="translate(364.29,237.00) scale(1.2342,1)" font-size="14.8">=</text><text transform="translate(379.61,237.00) scale(1.0550,1)" font-size="14.8">0.07</text><text transform="translate(329.96,248.50) scale(1.0552,1)" font-size="14.8">CFO</text><text transform="translate(364.29,248.50) scale(1.2342,1)" font-size="14.8">=</text><text transform="translate(379.61,248.50) scale(1.0550,1)" font-size="14.8">0.08</text><text transform="translate(329.96,260.50) scale(1.0552,1)" font-size="14.8">CFO</text><text transform="translate(364.29,260.50) scale(1.2342,1)" font-size="14.8">=</text><text transform="translate(379.61,260.50) scale(1.0550,1)" font-size="14.8">0.09</text><text transform="translate(329.96,273.60) scale(1.0552,1)" font-size="14.8">CFO</text><text transform="translate(364.29,273.60) scale(1.2342,1)" font-size="14.8">=</text><text transform="translate(379.61,273.60) scale(1.0550,1)" font-size="14.8">0.1</text><text transform="translate(329.96,306.80) scale(1.0552,1)" font-size="14.8">CFO</text><text transform="translate(364.29,306.80) scale(1.2342,1)" font-size="14.8">=</text><text transform="translate(379.61,306.80) scale(1.0550,1)" font-size="14.8">0.15</text><text transform="translate(329.96,332.00) scale(1.0552,1)" font-size="14.8">CFO</text><text transform="translate(364.29,332.00) scale(1.2342,1)" font-size="14.8">=</text><text transform="translate(379.61,332.00) scale(1.0550,1)" font-size="14.8">0.2</text><text transform="translate(329.96,374.00) scale(1.0552,1)" font-size="14.8">CFO</text><text transform="translate(364.29,374.00) scale(1.2342,1)" font-size="14.8">=</text><text transform="translate(379.61,374.00) scale(1.0550,1)" font-size="14.8">0.3</text></g>
<g><text transform="translate(84.13,397.80) scale(1.0503,1)" font-size="14.8">637</text><text transform="translate(109.78,397.80) scale(1.1253,1)" font-size="14.8">km/h</text><text transform="translate(148.51,397.80) scale(1.0656,1)" font-size="14.8">182</text><text transform="translate(174.38,397.80) scale(1.1253,1)" font-size="14.8">km/h</text><text transform="translate(212.54,397.80) scale(1.0460,1)" font-size="14.8">106</text><text transform="translate(238.39,397.80) scale(1.1153,1)" font-size="14.8">km/h</text><text transform="translate(282.08,397.80) scale(1.0418,1)" font-size="14.8">75</text><text transform="translate(299.79,397.80) scale(1.1120,1)" font-size="14.8">km/h</text><text transform="translate(342.21,397.80) scale(1.0317,1)" font-size="14.8">58</text><text transform="translate(359.28,397.80) scale(1.1287,1)" font-size="14.8">km/h</text><text transform="translate(403.99,397.80) scale(1.0721,1)" font-size="14.8">47</text><text transform="translate(421.78,397.80) scale(1.1220,1)" font-size="14.8">km/h</text><text transform="translate(464.00,397.80) scale(1.0468,1)" font-size="14.8">40</text><text transform="translate(481.28,397.80) scale(1.1186,1)" font-size="14.8">km/h</text><text transform="translate(524.58,397.80) scale(1.0173,1)" font-size="14.8">34</text><text transform="translate(541.78,397.80) scale(1.1287,1)" font-size="14.8">km/h</text></g>
<path d="M111.68 404.70L104.48 415.60M102.18 407.60L104.48 415.60L112.48 414.00M171.88 404.70L164.68 415.60M162.38 407.60L164.68 415.60L172.68 414.00M232.08 404.70L224.88 415.60M222.58 407.60L224.88 415.60L232.88 414.00M292.28 404.70L285.08 415.60M282.78 407.60L285.08 415.60L293.08 414.00M352.48 404.70L345.28 415.60M342.98 407.60L345.28 415.60L353.28 414.00M412.68 404.70L405.48 415.60M403.18 407.60L405.48 415.60L413.48 414.00M472.88 404.70L465.68 415.60M463.38 407.60L465.68 415.60L473.68 414.00M533.08 404.70L525.88 415.60M523.58 407.60L525.88 415.60L533.88 414.00" stroke="#000" stroke-width="1.45" fill="none" stroke-linecap="round" stroke-linejoin="round"/>
</svg>
</body></html>
